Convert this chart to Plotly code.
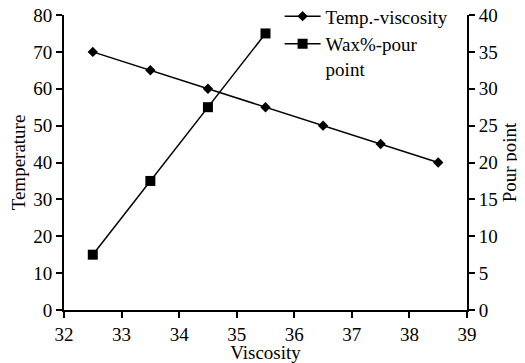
import plotly.graph_objects as go

visc_temp = [32.5, 33.5, 34.5, 35.5, 36.5, 37.5, 38.5]
temperature = [70, 65, 60, 55, 50, 45, 40]
visc_wax = [32.5, 33.5, 34.5, 35.5]
pour_point = [7.5, 17.5, 27.5, 37.5]

FONT = "Liberation Serif"
FS = 19

fig = go.Figure()
fig.add_trace(go.Scatter(
    x=visc_temp, y=temperature, mode="lines+markers", name="Temp.-viscosity",
    line=dict(color="black", width=1.5),
    marker=dict(symbol="diamond", size=8, color="black"),
))
fig.add_trace(go.Scatter(
    x=visc_wax, y=pour_point, mode="lines+markers", name="Wax%-pour<br>point",
    yaxis="y2",
    line=dict(color="black", width=1.5),
    marker=dict(symbol="square", size=10, color="black"),
))

axis_common = dict(
    showgrid=False, zeroline=False, showline=True, linecolor="black", linewidth=2,
    ticks="outside", tickcolor="black", tickwidth=2, ticklen=6, automargin=False,
    ticklabeloverflow="allow",
    tickfont=dict(family=FONT, size=FS, color="black"),
)

# page body has an 8px default margin, so the figure is 8px smaller
fig.update_layout(
    width=517, height=355,
    margin=dict(l=56, r=58, t=7, b=53, autoexpand=False),
    plot_bgcolor="white", paper_bgcolor="white",
    font=dict(family=FONT, size=FS, color="black"),
    showlegend=True,
    legend=dict(x=0.535, y=1.06, xanchor="left", yanchor="top", valign="top",
                bgcolor="rgba(0,0,0,0)", font=dict(family=FONT, size=FS),
                tracegroupgap=0, itemwidth=36),
    xaxis=dict(range=[32, 39], dtick=1,
               title=dict(text="Viscosity", font=dict(family=FONT, size=FS), standoff=2),
               **axis_common),
    yaxis=dict(range=[0, 80], dtick=10,
               title=dict(text="Temperature", font=dict(family=FONT, size=FS), standoff=4),
               **axis_common),
    yaxis2=dict(range=[0, 40], dtick=5, overlaying="y", side="right",
                title=dict(text="Pour point", font=dict(family=FONT, size=FS), standoff=6),
                **axis_common),
)

fig.write_html("out.html")
